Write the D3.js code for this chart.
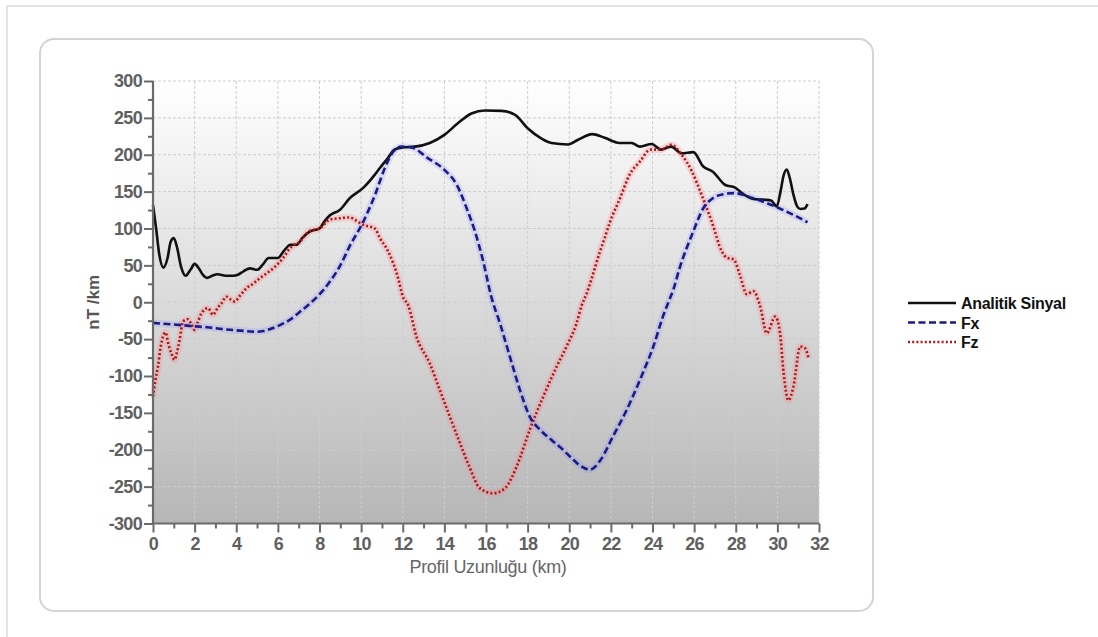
<!DOCTYPE html>
<html>
<head>
<meta charset="utf-8">
<script src="https://cdn.jsdelivr.net/npm/d3@7"></script>
<style>
  html, body { margin: 0; padding: 0; background: #fff; }
  svg { display: block; }
</style>
</head>
<body>
<svg id="chart" width="1098" height="637"></svg>
<script>
// Profile distance (km) vs. gradient (nT/km)
const analyticSignal = [
  [0,132],[0.15,100],[0.3,65],[0.5,47],[0.7,60],[0.85,82],[1.0,87],[1.15,75],[1.35,48],
  [1.57,36],[1.8,44],[2.0,52],[2.2,46],[2.4,37],[2.6,33],[2.85,36],[3.1,38],[3.5,36],
  [3.85,36],[4.05,37],[4.35,42],[4.65,46],[5.0,44],[5.3,52],[5.55,60],[6.0,60],[6.3,70],
  [6.6,78],[6.9,78],[7.2,88],[7.55,96],[8.0,100],[8.25,110],[8.5,118],[8.97,125],
  [9.45,141],[10.1,155],[10.66,173],[10.9,182],[11.3,196],[11.6,207],[12.0,210],
  [12.58,211],[13.3,216],[14.0,227],[14.66,243],[15.3,256],[15.95,260],[16.75,259.5],
  [17.4,254],[18.0,236],[18.67,222],[19.15,216],[19.95,214],[20.4,220],[21.1,228],
  [21.7,223],[22.4,216],[23.0,216],[23.4,211],[23.96,214.5],[24.4,207],[24.9,211],
  [25.4,202],[25.96,203.5],[26.44,184],[26.9,177],[27.5,159],[27.97,155.5],[28.37,146.5],
  [28.85,140],[29.4,139],[29.7,138],[29.97,130],[30.15,150],[30.3,172],[30.45,180],
  [30.6,168],[30.77,146],[30.95,130],[31.1,126.5],[31.3,127],[31.45,133]
];

const fx = [
  [0,-28],[0.9,-30],[1.76,-32],[2.6,-34],[3.37,-36.5],[4.2,-38.5],[4.97,-40],[5.3,-39],
  [5.6,-36.5],[6.1,-31],[6.57,-24],[7.1,-12],[7.53,-2],[8.17,16],[8.5,28],[9.0,50],
  [9.45,76],[10.1,109],[10.66,145],[11.14,182],[11.54,204],[11.94,211],[12.42,210],
  [13.2,195.5],[14.0,179.5],[14.6,159],[15.07,127.5],[15.47,96],[15.87,55],[16.25,8],
  [16.67,-28.5],[17.15,-74],[17.63,-119],[18.1,-155],[18.6,-173],[19.2,-188],[19.7,-200],
  [20.1,-211],[20.5,-221],[21.0,-227],[21.5,-214],[22.1,-182],[22.76,-146],[23.4,-105],
  [24.04,-60],[24.5,-19.5],[24.75,-1],[25.0,17],[25.3,46],[25.96,96],[26.44,127.5],
  [26.9,141],[27.4,146.5],[27.9,148],[28.85,141],[29.8,131],[30.77,118.5],[31.45,108.5]
];

const fz = [
  [0,-128],[0.12,-105],[0.24,-87],[0.36,-62],[0.48,-46.7],[0.6,-41],[0.75,-58],[0.88,-69],
  [1.04,-78],[1.15,-68],[1.28,-51],[1.44,-26],[1.68,-23],[1.85,-30],[2.0,-37.5],[2.15,-27],
  [2.33,-15],[2.64,-8],[2.88,-17],[3.1,-8],[3.29,-1.5],[3.53,7.5],[3.77,3],[3.93,1],
  [4.15,8],[4.33,14],[4.49,19],[4.8,25],[5.13,32.5],[5.45,39],[5.77,46],[6.25,60],
  [6.57,73],[7.05,82],[7.53,96.8],[8.0,100],[8.5,112],[9.0,114],[9.45,115],[9.8,110],
  [10.1,105],[10.66,100],[10.9,87],[11.3,69],[11.78,32.5],[12.0,8],[12.26,-4],[12.66,-46.7],
  [13.3,-83],[13.78,-119],[14.26,-155],[14.75,-191],[15.2,-223],[15.7,-252],[16.35,-259],
  [16.9,-252.5],[17.47,-223],[18.1,-173],[18.75,-128],[19.4,-87],[19.87,-60],[20.35,-28.5],
  [20.6,-4],[20.84,12],[21.08,32.6],[21.48,69],[21.7,87],[21.96,109],[22.44,141],[22.9,173],
  [23.4,191],[23.9,207],[24.4,207],[24.9,213.5],[25.4,200],[25.9,177],[26.36,145.6],
  [26.85,109],[27.33,69],[27.57,60.5],[27.9,58],[28.2,37],[28.53,11],[28.85,15],[29.17,-5],
  [29.49,-42],[29.9,-19.5],[30.13,-42],[30.3,-96],[30.53,-133],[30.77,-114.6],[31.1,-60],
  [31.33,-62.5],[31.5,-76]
];

const xTicks = d3.range(0, 33, 2);
const xMinorTicks = d3.range(1, 32, 2);
const yTicks = d3.range(-300, 301, 50);
const yMinorTicks = d3.range(-275, 300, 50);
const legendLabels = ["Analitik Sinyal", "Fx", "Fz"];
const xTitle = "Profil Uzunluğu (km)";
const yTitle = "nT /km";

const svg = d3.select("#chart");
const plot = { left: 153, right: 819, top: 81, bottom: 523.5 };

const x = d3.scaleLinear().domain([0, 32]).range([plot.left, plot.right]);
const y = d3.scaleLinear().domain([-300, 300]).range([plot.bottom, plot.top]);

// page border and rounded chart panel
svg.append("path")
  .attr("d", "M7,637 L7,6 L1098,6")
  .attr("fill", "none").attr("stroke", "#dcdcdc").attr("stroke-width", 1.5);
svg.append("rect")
  .attr("x", 40).attr("y", 39).attr("width", 833).attr("height", 572)
  .attr("rx", 14).attr("ry", 14)
  .attr("fill", "#fff").attr("stroke", "#d4d4d4").attr("stroke-width", 2);

// plot background gradient
const defs = svg.append("defs");
const grad = defs.append("linearGradient").attr("id", "bg")
  .attr("x1", 0).attr("y1", 0).attr("x2", 0).attr("y2", 1);
grad.append("stop").attr("offset", "0%").attr("stop-color", "#ffffff");
grad.append("stop").attr("offset", "100%").attr("stop-color", "#b6b6b6");

svg.append("rect")
  .attr("x", plot.left).attr("y", plot.top)
  .attr("width", plot.right - plot.left).attr("height", plot.bottom - plot.top)
  .attr("fill", "url(#bg)");

// grid
const grid = svg.append("g").attr("stroke", "#cdcdcd").attr("stroke-width", 1)
  .attr("stroke-dasharray", "3,2");
grid.selectAll("line.v").data(xTicks.slice(1)).join("line")
  .attr("x1", d => x(d)).attr("x2", d => x(d))
  .attr("y1", plot.top).attr("y2", plot.bottom);
grid.selectAll("line.h").data(yTicks.slice(1)).join("line")
  .attr("x1", plot.left).attr("x2", plot.right)
  .attr("y1", d => y(d)).attr("y2", d => y(d));

// series
const line = d3.line().x(d => x(d[0])).y(d => y(d[1])).curve(d3.curveMonotoneX);
const g = svg.append("g").attr("fill", "none").attr("stroke-linejoin", "round");

g.append("path").datum(fz).attr("d", line)
  .attr("stroke", "rgba(255,130,130,0.25)").attr("stroke-width", 7);
g.append("path").datum(fx).attr("d", line)
  .attr("stroke", "rgba(130,130,255,0.2)").attr("stroke-width", 7);

g.append("path").datum(analyticSignal).attr("d", line)
  .attr("stroke", "#111").attr("stroke-width", 2.6);
g.append("path").datum(fz).attr("d", line)
  .attr("stroke", "#b0141a").attr("stroke-width", 2.6).attr("stroke-dasharray", "2,2.2");
g.append("path").datum(fx).attr("d", line)
  .attr("stroke", "#1a1a88").attr("stroke-width", 2.6).attr("stroke-dasharray", "7,3.5");

// axes
const axisColor = "#6a6a6a";
const tickFont = "'Liberation Sans', Arial, sans-serif";
const plain = d => String(d);

const yAxis = svg.append("g").attr("transform", `translate(${plot.left},0)`)
  .call(d3.axisLeft(y).tickValues(yTicks).tickSize(9).tickPadding(2).tickFormat(plain));
const yMinor = svg.append("g").attr("transform", `translate(${plot.left},0)`)
  .call(d3.axisLeft(y).tickValues(yMinorTicks).tickSize(5).tickFormat(""));
const xAxis = svg.append("g").attr("transform", `translate(0,${plot.bottom})`)
  .call(d3.axisBottom(x).tickValues(xTicks).tickSize(9).tickPadding(5).tickFormat(plain));
const xMinor = svg.append("g").attr("transform", `translate(0,${plot.bottom})`)
  .call(d3.axisBottom(x).tickValues(xMinorTicks).tickSize(5).tickFormat(""));

[yAxis, yMinor, xAxis, xMinor].forEach(a => {
  a.select(".domain").attr("stroke", axisColor).attr("stroke-width", 2.2);
  a.selectAll(".tick line").attr("stroke", axisColor).attr("stroke-width", 2);
  a.selectAll(".tick text")
    .attr("fill", "#606060")
    .style("font-family", tickFont)
    .style("font-size", "18px")
    .style("font-weight", "bold")
    .style("letter-spacing", "-0.7px");
});
yAxis.select(".domain").attr("d", `M0,${plot.top}V${plot.bottom}`);
xAxis.select(".domain").attr("d", `M${plot.left},0H${plot.right}`);
yMinor.select(".domain").remove();
xMinor.select(".domain").remove();

// axis titles
svg.append("text")
  .attr("transform", `translate(99,${y(0)}) rotate(-90)`)
  .attr("text-anchor", "middle")
  .attr("fill", "#555")
  .style("font-family", tickFont).style("font-size", "17px").style("font-weight", "bold")
  .text(yTitle);

svg.append("text")
  .attr("x", 488).attr("y", 573)
  .attr("text-anchor", "middle")
  .attr("fill", "#666")
  .style("font-family", tickFont).style("font-size", "18px")
  .style("letter-spacing", "-0.3px")
  .text(xTitle);

// legend
const legendStyles = [
  { stroke: "#111", dash: null, width: 2.6 },
  { stroke: "#1a1a88", dash: "7,3.5", width: 2.6 },
  { stroke: "#b0141a", dash: "2,2.2", width: 2.6 }
];
const legend = svg.append("g").attr("transform", "translate(908,303)");
legendLabels.forEach((label, i) => {
  const row = legend.append("g").attr("transform", `translate(0,${i * 19.5})`);
  row.append("line").attr("x1", 0).attr("x2", 48).attr("y1", 0).attr("y2", 0)
    .attr("stroke", legendStyles[i].stroke)
    .attr("stroke-width", legendStyles[i].width)
    .attr("stroke-dasharray", legendStyles[i].dash);
  row.append("text").attr("x", 53).attr("y", 6)
    .attr("fill", "#111")
    .style("font-family", tickFont).style("font-size", "16px").style("font-weight", "bold")
    .style("letter-spacing", "-0.3px")
    .text(label);
});
</script>
</body>
</html>
